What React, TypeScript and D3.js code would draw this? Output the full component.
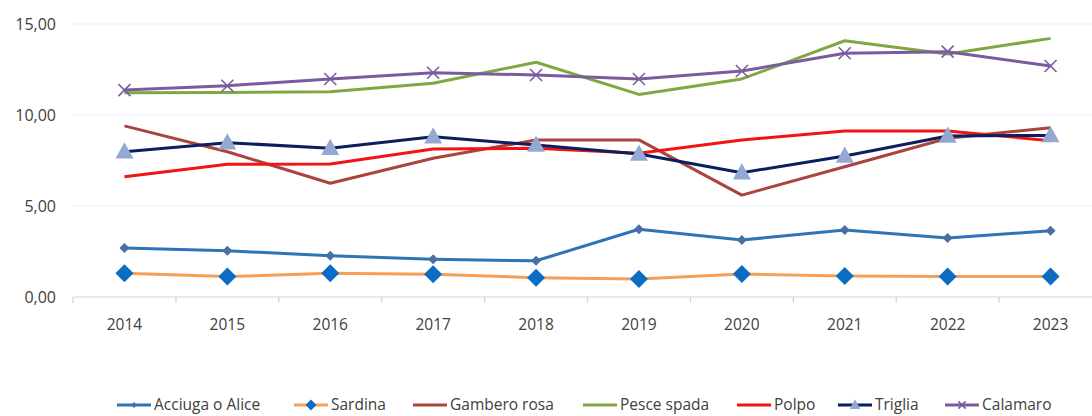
import React from "react";
import * as d3 from "d3";

const years = ["2014", "2015", "2016", "2017", "2018", "2019", "2020", "2021", "2022", "2023"];
const yTicks = [0, 5, 10, 15];

const acciuga = [2.69, 2.54, 2.27, 2.07, 1.99, 3.72, 3.13, 3.68, 3.24, 3.64];
const sardina = [1.30, 1.12, 1.30, 1.25, 1.06, 0.99, 1.26, 1.15, 1.12, 1.12];
const gambero = [9.40, 7.98, 6.25, 7.62, 8.63, 8.63, 5.60, 7.16, 8.72, 9.30];
const pesceSpada = [11.22, 11.24, 11.28, 11.74, 12.90, 11.13, 11.98, 14.08, 13.35, 14.21];
const polpo = [6.61, 7.29, 7.31, 8.13, 8.17, 7.90, 8.63, 9.12, 9.12, 8.59];
const triglia = [7.98, 8.48, 8.17, 8.81, 8.35, 7.86, 6.83, 7.75, 8.85, 8.88];
const calamaro = [11.37, 11.61, 11.98, 12.32, 12.20, 11.98, 12.42, 13.39, 13.48, 12.69];

type Marker = "none" | "smallDiamond" | "bigDiamond" | "triangle" | "x";
const series: { name: string; values: number[]; color: string; marker: Marker; markerColor: string }[] = [
  { name: "Acciuga o Alice", values: acciuga, color: "#2E75B6", marker: "smallDiamond", markerColor: "#4A6FA5" },
  { name: "Sardina", values: sardina, color: "#F4A05A", marker: "bigDiamond", markerColor: "#0A6CC2" },
  { name: "Gambero rosa", values: gambero, color: "#A9443F", marker: "none", markerColor: "" },
  { name: "Pesce spada", values: pesceSpada, color: "#7FA843", marker: "none", markerColor: "" },
  { name: "Polpo", values: polpo, color: "#F21414", marker: "none", markerColor: "" },
  { name: "Triglia", values: triglia, color: "#0B1F5C", marker: "triangle", markerColor: "#93A9D2" },
  { name: "Calamaro", values: calamaro, color: "#7A5C9E", marker: "x", markerColor: "#7A5C9E" },
];

const legendX = [117, 294, 413, 583, 737, 838, 945];

function MarkerShape({ type, x, y, color, scale = 1 }: { type: Marker; x: number; y: number; color: string; scale?: number }) {
  if (type === "smallDiamond") {
    const r = 5 * scale;
    return <path d={`M${x},${y - r}L${x + r},${y}L${x},${y + r}L${x - r},${y}Z`} fill={color} />;
  }
  if (type === "bigDiamond") {
    const r = 9 * scale;
    return <path d={`M${x},${y - r}L${x + r},${y}L${x},${y + r}L${x - r},${y}Z`} fill={color} />;
  }
  if (type === "triangle") {
    const r = 9 * scale;
    return <path d={`M${x},${y - r * 1.05}L${x + r},${y + r * 0.75}L${x - r},${y + r * 0.75}Z`} fill={color} />;
  }
  if (type === "x") {
    const r = 6 * scale;
    return (
      <g stroke={color} strokeWidth={1.6}>
        <line x1={x - r} y1={y - r} x2={x + r} y2={y + r} />
        <line x1={x - r} y1={y + r} x2={x + r} y2={y - r} />
      </g>
    );
  }
  return null;
}

export default function App() {
  const W = 1092, H = 416;
  const left = 73, right = 1102;
  const x = d3.scaleBand<string>().domain(years).range([left, right]);
  const y = d3.scaleLinear().domain([0, 15]).range([297, 24]);
  const line = d3.line<number>().x((_, i) => (x(years[i]) as number) + x.bandwidth() / 2).y((v) => y(v));
  const font = "Open Sans, Noto Sans, sans-serif";
  const legY = 405;

  return (
    <svg width={W} height={H} style={{ position: "absolute", left: 0, top: 0 }}>
      <rect width={W} height={H} fill="#fff" />
      {yTicks.filter((t) => t > 0).map((t) => (
        <line key={t} x1={left} x2={right} y1={y(t)} y2={y(t)} stroke="#E8EDF5" strokeWidth={1} />
      ))}
      <line x1={left} x2={right} y1={y(0)} y2={y(0)} stroke="#C9D5EA" strokeWidth={1.2} />
      {years.map((yr) => (
        <line key={yr} x1={x(yr) as number} x2={x(yr) as number} y1={y(0)} y2={y(0) + 6} stroke="#C9D5EA" strokeWidth={1.2} />
      ))}
      {yTicks.map((t) => (
        <text key={t} x={56} y={y(t)} dy="0.35em" textAnchor="end" fontFamily={font} fontSize={16} fill="#404040">
          {d3.format(".2f")(t).replace(".", ",")}
        </text>
      ))}
      {years.map((yr) => (
        <text key={yr} x={(x(yr) as number) + x.bandwidth() / 2} y={325} dy="0.35em" textAnchor="middle" fontFamily={font} fontSize={15.5} fill="#404040">
          {yr}
        </text>
      ))}
      {series.map((s) => (
        <g key={s.name}>
          <path d={line(s.values) || ""} fill="none" stroke={s.color} strokeWidth={3} strokeLinejoin="round" />
          {s.marker !== "none" &&
            s.values.map((v, i) => (
              <MarkerShape key={i} type={s.marker} x={(x(years[i]) as number) + x.bandwidth() / 2} y={y(v)} color={s.markerColor} />
            ))}
        </g>
      ))}
      {series.map((s, i) => {
        const lx = legendX[i];
        return (
          <g key={s.name}>
            <line x1={lx} x2={lx + 34} y1={legY} y2={legY} stroke={s.color} strokeWidth={3} />
            {s.marker !== "none" && <MarkerShape type={s.marker} x={lx + 17} y={legY} color={s.markerColor} scale={0.6} />}
            <text x={lx + 37} y={legY} dy="0.35em" fontFamily={font} fontSize={15.5} fill="#404040">
              {s.name}
            </text>
          </g>
        );
      })}
    </svg>
  );
}
